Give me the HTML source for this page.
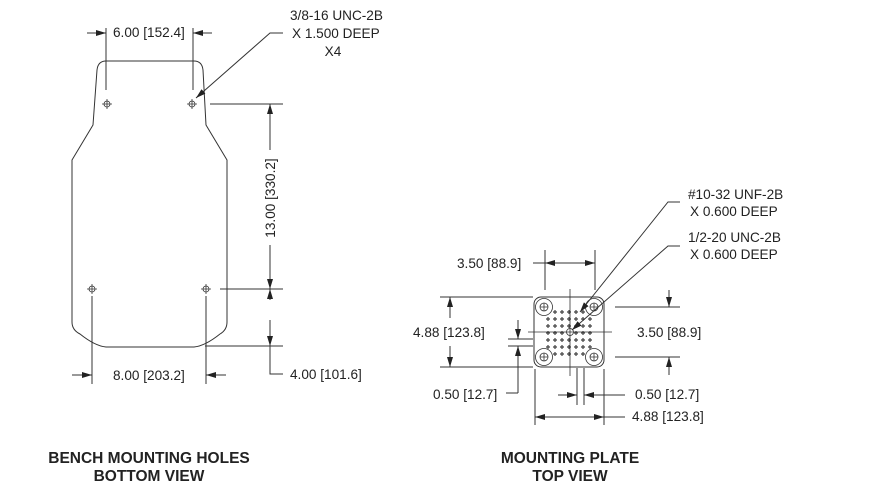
<!DOCTYPE html>
<html><head><style>
body{margin:0;background:#fff;}
svg{display:block;font-family:"Liberation Sans",sans-serif;}
text{font-size:13.6px;fill:#222;}
.b{font-weight:bold;font-size:15.5px;}
</style></head><body>
<svg width="869" height="499" viewBox="0 0 869 499" xmlns="http://www.w3.org/2000/svg">
<defs>
<marker id="a" viewBox="0 0 10 6" refX="10" refY="3" markerWidth="10" markerHeight="6" markerUnits="userSpaceOnUse" orient="auto"><path d="M0,0 L10,3 L0,6 z" fill="#222"/></marker>
</defs>
<g stroke="#333" stroke-width="1" fill="none">
<path d="M106,61 L194,61 Q202,61 203,70 L206,125 L227,160 L227,322 Q227,330 220,334 Q205,346 194,347 L106,347 Q95,346 80,334 Q72,330 72,322 L72,160 L93,125 L97,70 Q98,61 106,61 Z"/>
<g stroke-width="0.8">
<circle cx="107" cy="104" r="3"/><path d="M102,104h10M107,99v10"/>
<circle cx="192" cy="104" r="3"/><path d="M187,104h10M192,99v10"/>
<circle cx="92" cy="289" r="3"/><path d="M87,289h10M92,284v10"/>
<circle cx="206" cy="289" r="3"/><path d="M201,289h10M206,284v10"/>
</g>
<path d="M106,28V90M193,28V90"/>
<path d="M87,33H106" marker-end="url(#a)"/><path d="M212,33H193" marker-end="url(#a)"/>
<path d="M283,33H270L196,98" marker-end="url(#a)"/>
<path d="M210,104H283M220,289H283M205,346H283"/>
<path d="M270,150V104" marker-end="url(#a)"/>
<path d="M270,245V289" marker-end="url(#a)"/>
<path d="M270,300V289" marker-end="url(#a)"/>
<path d="M270,320V346" marker-end="url(#a)"/>
<path d="M270,346V374H283"/>
<path d="M92,296V384M206,296V384"/>
<path d="M72,375H92" marker-end="url(#a)"/><path d="M226,375H206" marker-end="url(#a)"/>

<rect x="534" y="297" width="70" height="70" rx="7"/>
<g stroke-width="0.8">
<circle cx="544" cy="307" r="8.5"/><circle cx="544" cy="307" r="4"/><path d="M540,307h8M544,303v8"/>
<circle cx="594" cy="307" r="8.5"/><circle cx="594" cy="307" r="4"/><path d="M590,307h8M594,303v8"/>
<circle cx="544" cy="357" r="8.5"/><circle cx="544" cy="357" r="4"/><path d="M540,357h8M544,353v8"/>
<circle cx="594" cy="357" r="8.5"/><circle cx="594" cy="357" r="4"/><path d="M590,357h8M594,353v8"/>
<circle cx="570" cy="332" r="3.5"/>
</g>
<g stroke-width="1.2" stroke="#444">
<path d="M553,312h4M555,310v4 M560,312h4M562,310v4 M567,312h4M569,310v4 M574,312h4M576,310v4 M581,312h4M583,310v4"/>
<path d="M546,319h4M548,317v4 M553,319h4M555,317v4 M560,319h4M562,317v4 M567,319h4M569,317v4 M574,319h4M576,317v4 M581,319h4M583,317v4 M588,319h4M590,317v4"/>
<path d="M546,326h4M548,324v4 M553,326h4M555,324v4 M560,326h4M562,324v4 M567,326h4M569,324v4 M574,326h4M576,324v4 M581,326h4M583,324v4 M588,326h4M590,324v4"/>
<path d="M546,333h4M548,331v4 M553,333h4M555,331v4 M560,333h4M562,331v4 M574,333h4M576,331v4 M581,333h4M583,331v4 M588,333h4M590,331v4"/>
<path d="M546,340h4M548,338v4 M553,340h4M555,338v4 M560,340h4M562,338v4 M567,340h4M569,338v4 M574,340h4M576,338v4 M581,340h4M583,338v4 M588,340h4M590,338v4"/>
<path d="M546,347h4M548,345v4 M553,347h4M555,345v4 M560,347h4M562,345v4 M567,347h4M569,345v4 M574,347h4M576,345v4 M581,347h4M583,345v4 M588,347h4M590,345v4"/>
<path d="M553,354h4M555,352v4 M560,354h4M562,352v4 M567,354h4M569,352v4 M574,354h4M576,352v4 M581,354h4M583,352v4"/>
</g>
<path d="M570,289V376M528,332H612" stroke-width="0.8"/>
<path d="M545,250V290M595,250V290"/>
<path d="M533,263H545"/>
<path d="M570,263H545" marker-end="url(#a)"/><path d="M570,263H595" marker-end="url(#a)"/>
<path d="M440,297H533M440,367H533"/>
<path d="M450,318V297" marker-end="url(#a)"/><path d="M450,346V367" marker-end="url(#a)"/>
<path d="M508,339H533M508,346H533"/>
<path d="M518,320V339" marker-end="url(#a)"/>
<path d="M518,393V346" marker-end="url(#a)"/>
<path d="M518,393H506"/>
<path d="M615,307H680M615,357H680"/>
<path d="M669,290V307" marker-end="url(#a)"/><path d="M669,375V357" marker-end="url(#a)"/>
<path d="M577,368V405M584,368V405"/>
<path d="M558,395H577" marker-end="url(#a)"/><path d="M625,395H584" marker-end="url(#a)"/>
<path d="M535,369V425M604,369V425"/>
<path d="M570,417H535" marker-end="url(#a)"/><path d="M570,417H604" marker-end="url(#a)"/>
<path d="M604,417H625"/>
<path d="M680,202H668L580,312" marker-end="url(#a)"/>
<path d="M680,246H668L572,330" marker-end="url(#a)"/>
</g>
<g>
<text x="113" y="37">6.00 [152.4]</text>
<text x="290" y="20">3/8-16 UNC-2B</text>
<text x="292" y="38">X 1.500 DEEP</text>
<text x="333" y="56" text-anchor="middle">X4</text>
<text transform="translate(275,198) rotate(-90)" text-anchor="middle">13.00 [330.2]</text>
<text x="290" y="379">4.00 [101.6]</text>
<text x="113" y="380">8.00 [203.2]</text>
<text x="688" y="199">#10-32 UNF-2B</text>
<text x="690" y="216">X 0.600 DEEP</text>
<text x="688" y="242">1/2-20 UNC-2B</text>
<text x="690" y="259">X 0.600 DEEP</text>
<text x="457" y="268">3.50 [88.9]</text>
<text x="413" y="337">4.88 [123.8]</text>
<text x="637" y="337">3.50 [88.9]</text>
<text x="433" y="399">0.50 [12.7]</text>
<text x="635" y="399">0.50 [12.7]</text>
<text x="632" y="421">4.88 [123.8]</text>
<text class="b" x="149" y="463" text-anchor="middle">BENCH MOUNTING HOLES</text>
<text class="b" x="149" y="481" text-anchor="middle">BOTTOM VIEW</text>
<text class="b" x="570" y="463" text-anchor="middle">MOUNTING PLATE</text>
<text class="b" x="570" y="481" text-anchor="middle">TOP VIEW</text>
</g>
</svg>
</body></html>
